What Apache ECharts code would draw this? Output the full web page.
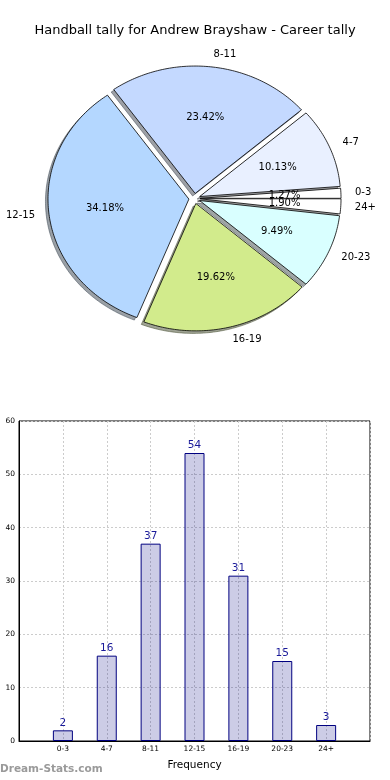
<!DOCTYPE html>
<html><head><meta charset="utf-8">
<script src="https://cdn.jsdelivr.net/npm/echarts@6/dist/echarts.min.js"></script>
<style>html,body{margin:0;padding:0;background:#fff}#c{width:390px;height:780px}</style>
</head><body><div id="c"></div>
<script>
const categories = ['0-3','4-7','8-11','12-15','16-19','20-23','24+'];
const counts = [2,16,37,54,31,15,3];
const yTicks = [0,10,20,30,40,50,60];
const titleText = 'Handball tally for Andrew Brayshaw - Career tally';

const pieColors = ['#ffffff','#e9f0ff','#c4d9ff','#b4d7ff','#d2eb8c','#d9ffff','#ffffff'];
const FONT = 'DejaVu Sans, sans-serif';
const total = counts.reduce((a,b)=>a+b,0);
const starts = []; let acc = 0;
counts.forEach(v=>{starts.push(acc/total); acc += v;});
const explode = 0.04;

function shadowColor(hex){
  const r=parseInt(hex.slice(1,3),16),g=parseInt(hex.slice(3,5),16),b=parseInt(hex.slice(5,7),16);
  return 'rgba('+Math.round(r*0.3)+','+Math.round(g*0.3)+','+Math.round(b*0.3)+',0.5)';
}
function slicePts(api,i,dx,dy){
  const a0=starts[i]*2*Math.PI, a1=(starts[i]+counts[i]/total)*2*Math.PI, mid=(a0+a1)/2;
  const ox=explode*Math.cos(mid)+dx, oy=explode*Math.sin(mid)+dy;
  const pts=[api.coord([ox,oy])];
  const steps=Math.max(2,Math.ceil((a1-a0)/(Math.PI/180)));
  for(let k=0;k<=steps;k++){const a=a0+(a1-a0)*k/steps;pts.push(api.coord([ox+Math.cos(a),oy+Math.sin(a)]));}
  return pts;
}
const pieData = counts.map((v,i)=>[i,v]);

const chart = echarts.init(document.getElementById('c'),null,{renderer:'canvas'});
const rx=140.9, ry=127.4, cx=194.5, cy=198.5, R=1.3;
chart.setOption({
  animation:false,
  title:{text:titleText,left:'center',top:19,textStyle:{fontFamily:FONT,fontSize:13,fontWeight:'normal',color:'#000'}},
  graphic:[{type:'text',left:0,top:764,style:{text:'Dream-Stats.com',font:'bold 10.5px '+FONT,fill:'#9a9a9a'}}],
  grid:[
    {left:cx-R*rx,top:cy-R*ry,width:2*R*rx,height:2*R*ry,show:false},
    {left:19,right:20,top:421,height:320,show:true,borderColor:'#000',borderWidth:1}
  ],
  xAxis:[
    {gridIndex:0,type:'value',min:-R,max:R,show:false},
    {gridIndex:1,type:'value',min:-1,max:7,interval:1,
     name:'Frequency',nameLocation:'middle',nameGap:19,nameTextStyle:{fontFamily:FONT,fontSize:10.5,color:'#000'},
     axisLine:{onZero:false,lineStyle:{color:'#000'}},axisTick:{show:false},
     axisLabel:{fontFamily:FONT,fontSize:7.5,color:'#000',margin:4,formatter:v=>categories[v]||''},
     splitLine:{show:true,lineStyle:{color:'#cccccc',type:[2,2],width:1}}}
  ],
  yAxis:[
    {gridIndex:0,type:'value',min:-R,max:R,show:false},
    {gridIndex:1,type:'value',min:0,max:60,interval:10,
     axisLine:{show:true,onZero:false,lineStyle:{color:'#000'}},axisTick:{show:false},
     axisLabel:{fontFamily:FONT,fontSize:7.5,color:'#000',margin:4,formatter:v=>yTicks.includes(v)?String(v):''},
     splitLine:{show:true,lineStyle:{color:'#cccccc',type:[2,2],width:1}}}
  ],
  series:[
    {type:'custom',xAxisIndex:0,yAxisIndex:0,data:pieData,z:1,silent:true,
     renderItem:(p,api)=>{const i=api.value(0);
       return {type:'polygon',shape:{points:slicePts(api,i,-0.018,-0.02)},
         style:{fill:shadowColor(pieColors[i]),stroke:shadowColor(pieColors[i]),lineWidth:1}};}},
    {type:'custom',xAxisIndex:0,yAxisIndex:0,data:pieData,z:2,silent:true,
     renderItem:(p,api)=>{const i=api.value(0);
       return {type:'polygon',shape:{points:slicePts(api,i,0,0)},
         style:{fill:pieColors[i],stroke:'#000',lineWidth:0.8}};}},
    {type:'custom',xAxisIndex:0,yAxisIndex:0,data:pieData,z:3,silent:true,
     renderItem:(p,api)=>{const i=api.value(0);
       const mid=(starts[i]+counts[i]/total/2)*2*Math.PI;
       const c=Math.cos(mid), s=Math.sin(mid);
       const lp=api.coord([(explode+1.1)*c,(explode+1.1)*s]);
       const pp=api.coord([(explode+0.6)*c,(explode+0.6)*s]);
       return {type:'group',children:[
         {type:'text',x:lp[0],y:lp[1],style:{text:categories[i],font:'10px '+FONT,fill:'#000',
           align:c>0?'left':'right',verticalAlign:'middle',textAlign:c>0?'left':'right',textVerticalAlign:'middle'}},
         {type:'text',x:pp[0],y:pp[1],style:{text:(counts[i]/total*100).toFixed(2)+'%',font:'10px '+FONT,fill:'#000',
           align:'center',verticalAlign:'middle',textAlign:'center',textVerticalAlign:'middle'}}
       ]};}},
    {type:'bar',xAxisIndex:1,yAxisIndex:1,data:counts.map((v,i)=>[i,v]),barWidth:20,
     itemStyle:{color:'rgba(0,0,128,0.2)',borderColor:'#000080',borderWidth:1},
     label:{show:true,position:'top',distance:2,color:'#1a1a99',fontFamily:FONT,fontSize:10.5,formatter:p=>p.value[1]}}
  ]
});
</script></body></html>
